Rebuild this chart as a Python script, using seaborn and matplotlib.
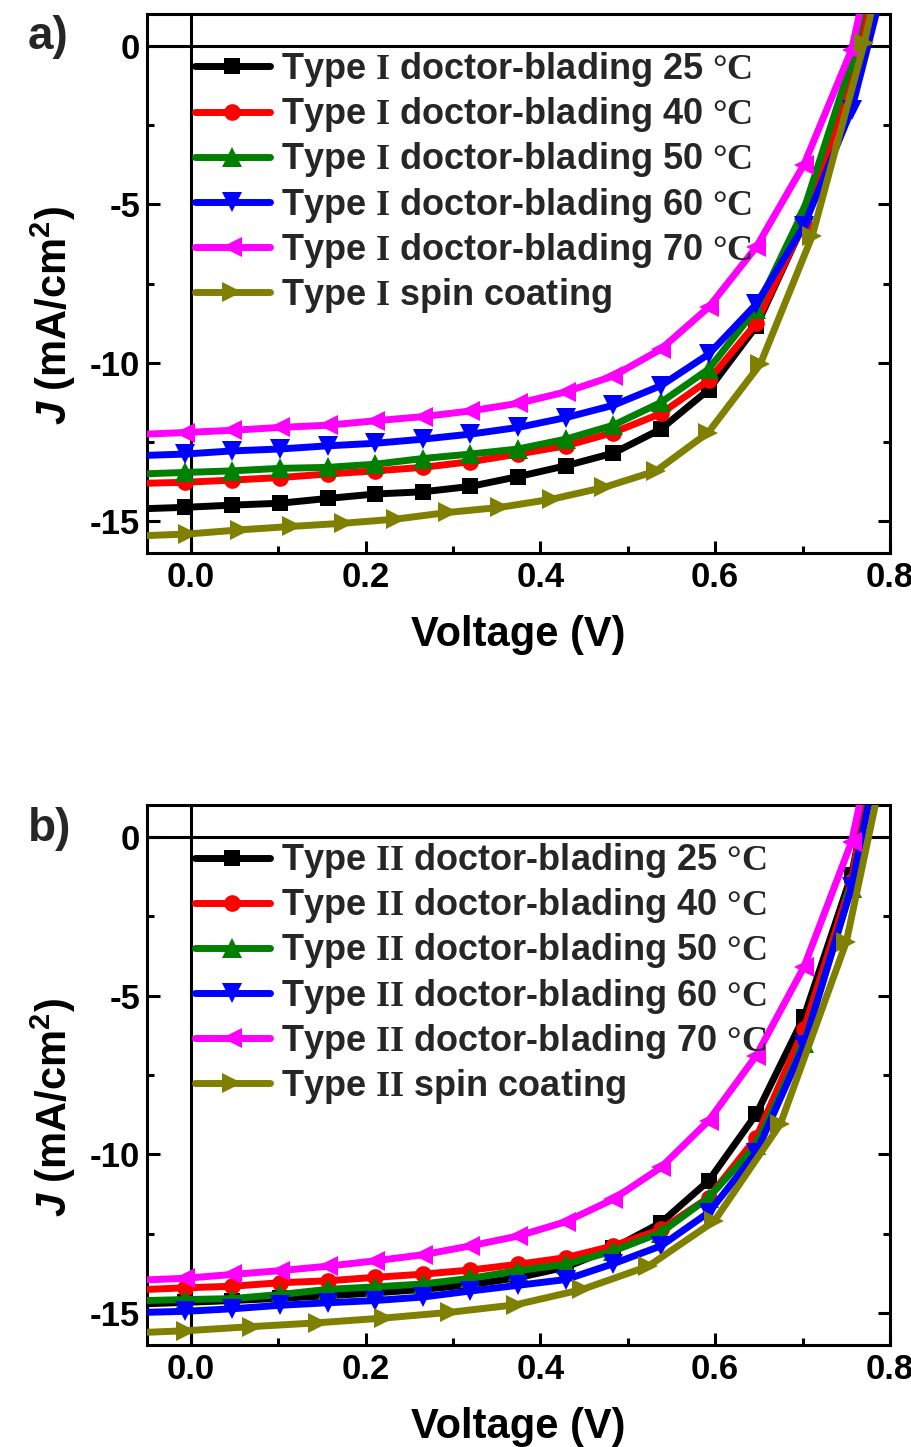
import numpy as np
import pandas as pd
import matplotlib
matplotlib.use("Agg")
import matplotlib.pyplot as plt
from matplotlib.lines import Line2D
from matplotlib.ticker import MultipleLocator
import seaborn as sns

# ---------------- data ----------------
series_names = ["25", "40", "50", "60", "70", "spin"]
colors = ["#000000", "#ff0000", "#008000", "#0000ff", "#ff00ff", "#808000"]
markers = ["s", "o", "^", "v", "<", ">"]
marker_sizes = [11, 12, 15, 15, 15, 15]

# panel a (Type I)
v_a = [-0.05, -0.007, 0.0475, 0.102, 0.1565, 0.211, 0.2655, 0.32, 0.3745, 0.429,
       0.4835, 0.538, 0.5925, 0.647, 0.7015, 0.756, 0.811]
v_a_spin = [-0.05, -0.003, 0.0565, 0.116, 0.1755, 0.235, 0.2945, 0.354, 0.4135,
            0.473, 0.5325, 0.592, 0.6515, 0.711, 0.7705, 0.83]
j_a_25 = [-14.6, -14.56, -14.49, -14.43, -14.28, -14.14, -14.07, -13.9, -13.59, -13.25,
          -12.85, -12.09, -10.85, -8.85, -5.6, -0.9, 5.6]
j_a_40 = [-13.8, -13.77, -13.70, -13.62, -13.51, -13.41, -13.30, -13.12, -12.88, -12.62,
          -12.2, -11.6, -10.55, -8.75, -5.6, -1.0, 6.3]
j_a_50 = [-13.5, -13.46, -13.41, -13.33, -13.3, -13.2, -13.02, -12.88, -12.72, -12.41,
          -11.97, -11.25, -10.2, -8.3, -5.17, -0.5, 7.0]
j_a_60 = [-12.92, -12.88, -12.78, -12.72, -12.62, -12.54, -12.41, -12.25, -12.04, -11.73,
          -11.34, -10.72, -9.73, -8.15, -5.69, -2.02, 3.9]
j_a_70 = [-12.25, -12.2, -12.13, -12.04, -11.97, -11.83, -11.70, -11.52, -11.28, -10.92,
          -10.42, -9.57, -8.25, -6.35, -3.75, -0.13, 6.7]
j_a_spin = [-15.45, -15.4, -15.27, -15.16, -15.06, -14.93, -14.72, -14.56, -14.3, -13.93,
            -13.41, -12.2, -10.05, -6.0, 0.08, 7.4]

# panel b (Type II)
v_b = v_a
v_b_spin = [-0.05, -0.005, 0.0705, 0.146, 0.2215, 0.297, 0.3725, 0.448, 0.5235,
            0.599, 0.6745, 0.75, 0.8255]
j_b_25 = [-14.7, -14.66, -14.6, -14.53, -14.45, -14.36, -14.25, -14.1, -13.88, -13.55,
          -12.95, -12.15, -10.83, -8.73, -5.68, -1.2, 6.3]
j_b_40 = [-14.25, -14.2, -14.15, -14.04, -13.98, -13.87, -13.77, -13.64, -13.46, -13.25,
          -12.88, -12.36, -11.36, -9.47, -6.05, -1.4, 7.4]
j_b_50 = [-14.6, -14.57, -14.54, -14.41, -14.25, -14.17, -14.08, -13.9, -13.66, -13.46,
          -13.04, -12.46, -11.36, -9.7, -6.5, -1.6, 6.3]
j_b_60 = [-14.97, -14.94, -14.86, -14.75, -14.67, -14.6, -14.49, -14.3, -14.12, -13.94,
          -13.44, -12.88, -11.83, -9.94, -6.57, -1.58, 5.8]
j_b_70 = [-13.95, -13.9, -13.78, -13.66, -13.52, -13.35, -13.16, -12.88, -12.57, -12.12,
          -11.41, -10.41, -8.94, -6.89, -4.10, -0.16, 6.9]
j_b_spin = [-15.6, -15.55, -15.42, -15.3, -15.15, -14.97, -14.73, -14.25, -13.52, -12.1,
            -9.05, -3.31, 6.5]

labels_a = [r"Type $\mathrm{I}$ doctor-blading 25 $\mathrm{°C}$",
            r"Type $\mathrm{I}$ doctor-blading 40 $\mathrm{°C}$",
            r"Type $\mathrm{I}$ doctor-blading 50 $\mathrm{°C}$",
            r"Type $\mathrm{I}$ doctor-blading 60 $\mathrm{°C}$",
            r"Type $\mathrm{I}$ doctor-blading 70 $\mathrm{°C}$",
            r"Type $\mathrm{I}$ spin coating"]
labels_b = [r"Type $\mathrm{II}$ doctor-blading 25 $\mathrm{°C}$",
            r"Type $\mathrm{II}$ doctor-blading 40 $\mathrm{°C}$",
            r"Type $\mathrm{II}$ doctor-blading 50 $\mathrm{°C}$",
            r"Type $\mathrm{II}$ doctor-blading 60 $\mathrm{°C}$",
            r"Type $\mathrm{II}$ doctor-blading 70 $\mathrm{°C}$",
            r"Type $\mathrm{II}$ spin coating"]

x_ticks = [0.0, 0.2, 0.4, 0.6, 0.8]
y_ticks = [-15, -10, -5, 0]

# ---------------- style ----------------
sns.set_theme(style="ticks")
plt.rcParams.update({
    "font.family": ["Liberation Sans", "DejaVu Sans"],
    "font.weight": "bold",
    "axes.unicode_minus": False,
    "mathtext.fontset": "custom",
    "mathtext.rm": "Liberation Serif",
    "mathtext.it": "Liberation Sans:italic:bold",
    "mathtext.bf": "Liberation Sans:bold",
    "axes.linewidth": 2.2,
})

LW = 5.0

fig = plt.figure(figsize=(9.12, 14.47), dpi=100)
W, H = 912, 1447
ax_a = fig.add_axes([147 / W, 1 - 553 / H, 743 / W, 539 / H])
ax_b = fig.add_axes([147 / W, 1 - 1345 / H, 743 / W, 540 / H])

panels = [
    (ax_a, [(v_a, j_a_25), (v_a, j_a_40), (v_a, j_a_50), (v_a, j_a_60), (v_a, j_a_70),
            (v_a_spin, j_a_spin)], labels_a, "a)", 37),
    (ax_b, [(v_b, j_b_25), (v_b, j_b_40), (v_b, j_b_50), (v_b, j_b_60), (v_b, j_b_70),
            (v_b_spin, j_b_spin)], labels_b, "b)", 829),
]

for ax, data, labels, tag, tag_y in panels:
    ax.axhline(0, color="black", lw=2.2, zorder=1)
    ax.axvline(0, color="black", lw=2.2, zorder=1)
    for (vs, js), c, m, ms in zip(data, colors, markers, marker_sizes):
        df = pd.DataFrame({"V": vs, "J": js})
        sns.lineplot(data=df, x="V", y="J", color=c, marker=m, markersize=ms,
                     mew=0, lw=LW, sort=False, estimator=None,
                     markevery=slice(1, None), ax=ax, zorder=3)
    ax.set_xlim(-0.05, 0.8)
    ax.set_ylim(-16, 1)
    ax.set_xticks(x_ticks)
    ax.set_yticks(y_ticks)
    ax.xaxis.set_minor_locator(MultipleLocator(0.1))
    ax.yaxis.set_minor_locator(MultipleLocator(2.5))
    ax.tick_params(which="both", direction="in", width=2.2, right=True, top=False,
                   labelright=False, colors="black")
    ax.tick_params(which="major", length=9, labelsize=25)
    ax.tick_params(which="minor", length=5)
    ax.tick_params(axis="x", pad=6)
    ax.tick_params(axis="y", pad=5)
    for lab in ax.get_xticklabels() + ax.get_yticklabels():
        lab.set_fontweight("bold")
    for s in ax.spines.values():
        s.set_visible(True)
        s.set_color("black")
        s.set_linewidth(2.2)
    ax.set_xlabel("Voltage (V)", fontsize=30, fontweight="bold", labelpad=15, color="black")
    ax.set_ylabel(r"$\mathit{J}$ (mA/cm$^\mathbf{2}$)", fontsize=30, fontweight="bold",
                  color="black")
    ax.yaxis.set_label_coords(-0.093, 0.44)

    handles = [Line2D([0], [0], color=c, marker=m, lw=LW, ms=ms, mew=0)
               for c, m, ms in zip(colors, markers, marker_sizes)]
    ax.legend(handles, labels, loc="upper left", bbox_to_anchor=(0.064, 0.933),
              frameon=False, borderpad=0, borderaxespad=0, handlelength=2.1,
              handletextpad=0.3, labelspacing=0.17,
              prop={"family": "Liberation Sans", "weight": "bold", "size": 26})
    fig.text(28 / W, 1 - tag_y / H, tag, fontsize=33, fontweight="bold",
             va="center", ha="left")

fig.savefig("out.png", dpi=100, facecolor="white")
